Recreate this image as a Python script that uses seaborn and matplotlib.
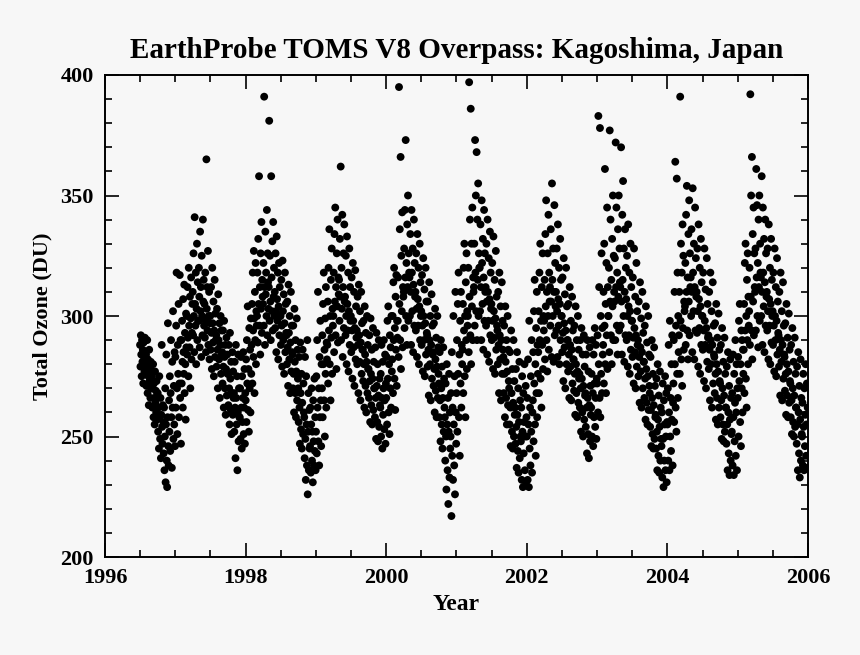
import numpy as np
import pandas as pd
import seaborn as sns
import matplotlib.pyplot as plt

# Total ozone (DU), 15 overpasses per month (roughly every 2nd day)
ozone_1996 = [  # Jul - Dec
    [288, 279, 292, 284, 275, 290, 281, 286, 272, 289, 283, 277, 291, 280, 285],
    [284, 271, 279, 290, 268, 282, 275, 263, 286, 273, 278, 266, 281, 270, 276],
    [275, 262, 270, 280, 258, 272, 266, 255, 277, 264, 269, 260, 273, 257, 267],
    [268, 252, 262, 245, 275, 258, 249, 266, 241, 259, 288, 254, 247, 263, 256],
    [243, 262, 236, 250, 270, 231, 255, 284, 240, 229, 258, 297, 246, 238, 265],
    [252, 275, 244, 268, 290, 258, 237, 281, 262, 302, 249, 271, 255, 285, 246],
]
ozone_1997 = [
    [283, 262, 296, 318, 270, 251, 288, 276, 305, 258, 272, 317, 266, 290, 247],
    [290, 272, 298, 281, 262, 307, 285, 276, 313, 268, 293, 280, 257, 301, 287],
    [300, 284, 312, 291, 275, 320, 296, 287, 308, 270, 299, 316, 282, 293, 305],
    [310, 292, 326, 300, 285, 341, 305, 296, 318, 280, 303, 330, 290, 314, 298],
    [298, 320, 308, 287, 335, 302, 312, 283, 325, 300, 292, 340, 306, 315, 296],
    [305, 291, 318, 298, 285, 365, 303, 312, 294, 327, 288, 300, 310, 282, 297],
    [300, 286, 312, 293, 278, 320, 297, 289, 306, 275, 294, 315, 283, 301, 290],
    [292, 279, 303, 286, 270, 309, 290, 282, 297, 266, 288, 300, 276, 294, 284],
    [285, 272, 294, 279, 262, 298, 283, 270, 288, 259, 278, 291, 267, 284, 276],
    [276, 263, 288, 270, 255, 293, 274, 261, 281, 251, 268, 285, 259, 277, 266],
    [268, 252, 281, 262, 241, 288, 266, 255, 275, 236, 260, 284, 248, 270, 258],
    [258, 270, 249, 283, 262, 245, 275, 256, 266, 285, 251, 262, 278, 247, 268],
]
ozone_1998 = [
    [265, 282, 256, 290, 272, 304, 261, 278, 252, 295, 270, 286, 260, 299, 276],
    [288, 305, 272, 318, 294, 283, 327, 299, 268, 310, 290, 322, 280, 302, 296],
    [300, 318, 289, 332, 305, 358, 296, 312, 284, 326, 303, 339, 293, 315, 308],
    [305, 322, 296, 391, 312, 288, 335, 309, 318, 300, 344, 292, 326, 314, 303],
    [312, 381, 298, 325, 306, 290, 358, 316, 302, 331, 294, 339, 308, 320, 300],
    [310, 295, 326, 302, 285, 333, 307, 298, 318, 282, 304, 322, 292, 312, 300],
    [300, 288, 315, 296, 279, 323, 302, 290, 309, 276, 297, 318, 285, 305, 293],
    [292, 280, 306, 287, 271, 313, 293, 282, 300, 268, 289, 310, 277, 296, 285],
    [284, 270, 296, 276, 260, 303, 281, 268, 290, 258, 277, 299, 265, 286, 274],
    [270, 256, 283, 262, 247, 289, 268, 253, 276, 245, 264, 286, 251, 272, 260],
    [258, 241, 283, 249, 232, 275, 255, 238, 290, 226, 252, 268, 236, 261, 245],
    [246, 262, 235, 255, 270, 240, 252, 231, 265, 248, 238, 274, 244, 258, 236],
]
ozone_1999 = [
    [252, 275, 243, 290, 262, 310, 248, 270, 238, 283, 258, 298, 265, 246, 280],
    [270, 292, 258, 305, 280, 318, 265, 286, 250, 299, 276, 312, 262, 289, 282],
    [288, 306, 272, 320, 294, 336, 280, 300, 265, 315, 291, 328, 276, 303, 296],
    [300, 318, 285, 334, 306, 345, 292, 312, 278, 326, 304, 340, 289, 316, 309],
    [315, 298, 332, 308, 362, 290, 320, 303, 342, 283, 312, 326, 295, 338, 306],
    [308, 292, 325, 300, 280, 333, 305, 294, 318, 277, 302, 328, 288, 312, 298],
    [300, 285, 316, 294, 274, 322, 298, 287, 310, 271, 295, 319, 282, 304, 291],
    [294, 280, 308, 288, 268, 313, 292, 281, 302, 265, 289, 310, 276, 297, 286],
    [286, 273, 298, 280, 262, 304, 284, 271, 293, 260, 281, 300, 268, 288, 278],
    [278, 266, 292, 273, 256, 299, 276, 263, 286, 255, 274, 295, 261, 281, 270],
    [270, 258, 287, 266, 249, 293, 271, 256, 280, 248, 267, 290, 254, 274, 263],
    [262, 276, 250, 288, 266, 245, 281, 259, 270, 290, 253, 265, 284, 247, 272],
]
ozone_2000 = [
    [266, 283, 255, 298, 274, 304, 260, 280, 251, 292, 270, 287, 262, 300, 277],
    [282, 300, 268, 314, 290, 320, 274, 295, 261, 308, 286, 317, 271, 298, 291],
    [298, 316, 283, 395, 305, 336, 290, 366, 278, 325, 302, 343, 287, 312, 308],
    [310, 328, 295, 344, 316, 373, 300, 322, 288, 338, 312, 350, 298, 326, 318],
    [316, 300, 334, 310, 288, 344, 318, 302, 328, 285, 313, 340, 296, 322, 308],
    [310, 294, 326, 303, 283, 334, 307, 296, 320, 280, 304, 330, 290, 314, 300],
    [302, 288, 317, 296, 277, 324, 300, 290, 311, 275, 297, 320, 284, 306, 293],
    [292, 279, 306, 286, 267, 314, 290, 280, 300, 265, 288, 309, 274, 296, 284],
    [285, 271, 297, 278, 260, 303, 282, 269, 291, 258, 279, 300, 266, 287, 276],
    [272, 258, 285, 265, 248, 290, 270, 255, 279, 245, 266, 287, 252, 274, 262],
    [258, 240, 272, 250, 228, 280, 255, 236, 266, 222, 252, 276, 233, 260, 245],
    [250, 268, 217, 285, 242, 262, 232, 300, 255, 238, 275, 226, 310, 260, 247],
]
ozone_2001 = [
    [268, 290, 252, 305, 276, 318, 258, 284, 242, 298, 272, 310, 262, 288, 280],
    [286, 305, 268, 320, 294, 330, 275, 300, 258, 314, 290, 326, 278, 302, 296],
    [300, 320, 285, 397, 308, 340, 292, 386, 280, 330, 304, 345, 290, 316, 310],
    [312, 330, 296, 373, 318, 350, 302, 368, 290, 340, 315, 355, 300, 326, 320],
    [320, 302, 338, 312, 290, 348, 322, 305, 332, 286, 316, 344, 298, 326, 310],
    [312, 296, 330, 306, 284, 340, 310, 298, 324, 281, 307, 335, 292, 318, 303],
    [305, 290, 322, 298, 278, 333, 302, 291, 315, 276, 299, 327, 286, 308, 296],
    [294, 280, 310, 288, 268, 318, 292, 282, 304, 265, 290, 314, 276, 298, 286],
    [283, 268, 296, 276, 258, 304, 281, 266, 290, 255, 277, 300, 263, 286, 273],
    [270, 255, 285, 262, 246, 294, 268, 252, 278, 245, 264, 290, 250, 273, 259],
    [262, 247, 278, 254, 237, 285, 259, 244, 270, 235, 256, 281, 241, 265, 250],
    [248, 262, 232, 275, 252, 229, 268, 243, 256, 280, 236, 250, 271, 230, 258],
]
ozone_2002 = [
    [250, 266, 232, 282, 255, 229, 298, 245, 262, 238, 275, 252, 290, 235, 260],
    [265, 285, 248, 302, 272, 315, 255, 280, 242, 295, 268, 310, 258, 288, 276],
    [285, 302, 268, 318, 290, 330, 274, 298, 262, 312, 288, 326, 278, 300, 294],
    [298, 315, 282, 334, 304, 348, 290, 310, 277, 326, 300, 342, 286, 318, 306],
    [312, 296, 336, 306, 283, 355, 315, 300, 328, 281, 310, 346, 292, 322, 304],
    [310, 294, 328, 302, 283, 338, 307, 296, 320, 280, 305, 332, 290, 315, 300],
    [300, 285, 316, 293, 273, 324, 297, 287, 309, 270, 294, 320, 280, 304, 290],
    [290, 277, 305, 284, 266, 312, 288, 279, 298, 265, 286, 308, 272, 294, 282],
    [282, 269, 296, 276, 259, 304, 280, 268, 290, 258, 277, 300, 264, 286, 274],
    [276, 262, 290, 270, 252, 295, 274, 260, 284, 250, 271, 292, 257, 279, 267],
    [268, 254, 284, 262, 243, 290, 266, 251, 277, 241, 263, 287, 248, 271, 259],
    [262, 276, 250, 290, 268, 246, 284, 258, 272, 295, 254, 266, 288, 249, 274],
]
ozone_2003 = [
    [272, 292, 260, 383, 280, 312, 266, 378, 258, 300, 276, 326, 268, 295, 284],
    [288, 310, 272, 330, 296, 361, 280, 305, 268, 322, 292, 345, 278, 312, 300],
    [300, 320, 285, 377, 306, 340, 292, 315, 280, 332, 304, 350, 290, 325, 310],
    [306, 324, 290, 372, 312, 345, 296, 318, 284, 336, 308, 350, 294, 328, 314],
    [312, 296, 370, 306, 284, 342, 315, 356, 300, 328, 281, 310, 336, 292, 320],
    [307, 290, 325, 300, 279, 338, 304, 292, 318, 276, 302, 330, 286, 312, 298],
    [298, 283, 316, 291, 272, 328, 295, 285, 308, 270, 292, 322, 279, 302, 288],
    [290, 275, 306, 283, 264, 314, 287, 277, 299, 262, 285, 310, 270, 293, 281],
    [281, 266, 296, 274, 257, 304, 278, 264, 289, 255, 275, 300, 261, 284, 271],
    [268, 254, 283, 261, 246, 290, 266, 251, 276, 245, 263, 287, 249, 271, 258],
    [259, 245, 274, 252, 236, 280, 257, 242, 267, 235, 254, 277, 240, 262, 249],
    [246, 260, 233, 272, 249, 229, 265, 240, 255, 275, 236, 250, 268, 231, 256],
]
ozone_2004 = [
    [255, 270, 240, 288, 260, 236, 298, 250, 266, 244, 280, 257, 292, 238, 264],
    [272, 290, 256, 310, 280, 364, 262, 296, 252, 357, 276, 318, 266, 300, 285],
    [292, 310, 276, 391, 298, 330, 282, 318, 271, 338, 295, 325, 286, 306, 302],
    [304, 322, 288, 342, 310, 354, 294, 316, 282, 334, 306, 348, 292, 326, 312],
    [316, 300, 336, 310, 285, 353, 318, 302, 330, 282, 312, 345, 294, 324, 308],
    [310, 293, 328, 302, 279, 338, 307, 295, 320, 276, 304, 332, 288, 314, 300],
    [300, 286, 318, 294, 273, 328, 298, 288, 311, 270, 295, 324, 281, 305, 291],
    [292, 278, 310, 286, 265, 318, 290, 280, 302, 262, 288, 314, 272, 296, 284],
    [283, 268, 297, 276, 257, 305, 280, 266, 291, 255, 277, 301, 262, 286, 273],
    [272, 258, 288, 265, 249, 295, 270, 255, 281, 248, 267, 291, 252, 276, 262],
    [262, 247, 279, 255, 236, 285, 260, 243, 271, 234, 257, 282, 240, 266, 251],
    [252, 268, 238, 284, 258, 234, 276, 248, 264, 290, 242, 260, 280, 236, 270],
]
ozone_2005 = [
    [266, 283, 250, 298, 273, 305, 256, 280, 246, 294, 270, 290, 260, 286, 276],
    [286, 305, 268, 322, 294, 330, 274, 300, 262, 315, 290, 326, 280, 308, 296],
    [302, 320, 288, 392, 308, 350, 294, 366, 282, 334, 306, 345, 292, 326, 312],
    [310, 328, 294, 361, 316, 346, 300, 322, 287, 340, 312, 350, 298, 330, 318],
    [316, 300, 358, 310, 288, 345, 318, 304, 332, 285, 314, 340, 296, 326, 308],
    [310, 294, 328, 302, 282, 338, 307, 296, 320, 280, 305, 332, 289, 315, 300],
    [302, 288, 318, 296, 277, 328, 300, 290, 312, 275, 298, 324, 284, 306, 293],
    [292, 279, 310, 286, 267, 318, 290, 281, 302, 265, 288, 314, 274, 296, 284],
    [283, 269, 297, 276, 259, 305, 280, 267, 291, 258, 277, 301, 264, 286, 273],
    [272, 258, 288, 265, 251, 295, 270, 256, 281, 250, 267, 291, 254, 276, 262],
    [262, 247, 279, 255, 236, 285, 260, 243, 271, 233, 257, 282, 240, 266, 251],
    [250, 264, 238, 276, 254, 236, 270, 246, 259, 280, 242, 255, 272, 237, 262],
]

years = [1996, 1997, 1998, 1999, 2000, 2001, 2002, 2003, 2004, 2005]
first_month = [7, 1, 1, 1, 1, 1, 1, 1, 1, 1]
ozone_by_year = [ozone_1996, ozone_1997, ozone_1998, ozone_1999, ozone_2000,
                 ozone_2001, ozone_2002, ozone_2003, ozone_2004, ozone_2005]

rows = []
for year, m0, months in zip(years, first_month, ozone_by_year):
    ndays = 366 if pd.Timestamp(year, 1, 1).is_leap_year else 365
    for k, vals in enumerate(months):
        start = pd.Timestamp(year, m0 + k, 1)
        mlen = start.days_in_month
        for i, v in enumerate(vals):
            doy = start.dayofyear + i * mlen / len(vals)
            rows.append((year + (doy - 0.5) / ndays, v))
df = pd.DataFrame(rows, columns=["year", "ozone"])

sns.set_style("ticks")
bg = "#f7f7f7"
plt.rcParams["font.family"] = ["Liberation Serif", "DejaVu Serif"]
plt.rcParams["font.weight"] = "bold"
plt.rcParams["text.color"] = "black"
plt.rcParams["axes.labelcolor"] = "black"
plt.rcParams["xtick.color"] = "black"
plt.rcParams["ytick.color"] = "black"

fig = plt.figure(figsize=(8.6, 6.55), dpi=100, facecolor=bg)
ax = fig.add_axes([0.1221, 0.1496, 0.8174, 0.7359], facecolor=bg)

sns.scatterplot(data=df, x="year", y="ozone", ax=ax, color="black",
                s=32, linewidth=0, edgecolor="none", legend=False)

ax.set_xlim(1996, 2006)
ax.set_ylim(200, 400)
ax.set_xticks(np.arange(1996, 2007, 2))
ax.set_xticks(np.arange(1996, 2006.01, 0.5), minor=True)
ax.set_yticks(np.arange(200, 401, 50))
ax.set_yticks(np.arange(200, 401, 10), minor=True)
ax.tick_params(which="both", direction="in", top=True, right=True,
               width=1.2, colors="black", labelcolor="black",
               labelsize=16, pad=8)
ax.tick_params(which="major", length=10)
ax.tick_params(which="minor", length=5)
for lab in ax.get_xticklabels() + ax.get_yticklabels():
    lab.set_fontweight("bold")
for sp in ax.spines.values():
    sp.set_linewidth(1.4)
    sp.set_color("black")

ax.set_xlabel("Year", fontsize=17, fontweight="bold", labelpad=4,
              color="black")
ax.set_ylabel("Total Ozone (DU)", fontsize=16, fontweight="bold",
              labelpad=6, color="black")
ax.set_title("EarthProbe TOMS V8 Overpass: Kagoshima, Japan",
             fontsize=21, fontweight="bold", pad=12, color="black")

fig.savefig("out.png", dpi=100, facecolor=bg)
